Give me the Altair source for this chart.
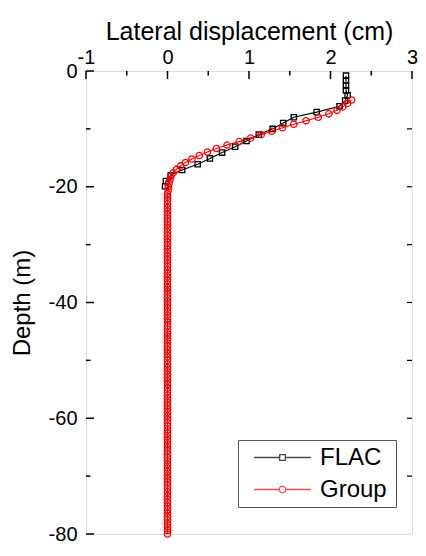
import altair as alt
import pandas as pd

# ---------------- data ----------------
series_names = ["FLAC", "Group"]
series_colors = ["black", "red"]

flac_depth = [-0.8, -1.65, -2.5, -3.35, -4.2, -5.1, -6.1, -7.1, -8.0, -9.0, -10.0,
              -11.0, -12.1, -13.1, -14.1, -15.1, -16.1, -17.1, -18.0, -19.0, -19.9]
flac_x = [2.19, 2.19, 2.19, 2.19, 2.21, 2.18, 2.11, 1.83, 1.55, 1.42, 1.29,
          1.12, 0.97, 0.83, 0.67, 0.52, 0.37, 0.18, 0.04, -0.02, -0.03]

group_depth = [
    -5.0, -5.6, -6.2, -6.8, -7.4, -8.0, -8.6, -9.2, -9.8, -10.4,
    -11.0, -11.6, -12.2, -12.8, -13.4, -14.0, -14.6, -15.2, -15.8, -16.4,
    -17.0, -17.6, -18.2, -18.8, -19.4, -20.0,
    -20.6, -21.2, -21.8, -22.4, -23.0, -23.6, -24.2, -24.8, -25.4, -26.0,
    -26.6, -27.2, -27.8, -28.4, -29.0, -29.6, -30.2, -30.8, -31.4, -32.0,
    -32.6, -33.2, -33.8, -34.4, -35.0, -35.6, -36.2, -36.8, -37.4, -38.0,
    -38.6, -39.2, -39.8, -40.4, -41.0, -41.6, -42.2, -42.8, -43.4, -44.0,
    -44.6, -45.2, -45.8, -46.4, -47.0, -47.6, -48.2, -48.8, -49.4, -50.0,
    -50.6, -51.2, -51.8, -52.4, -53.0, -53.6, -54.2, -54.8, -55.4, -56.0,
    -56.6, -57.2, -57.8, -58.4, -59.0, -59.6, -60.2, -60.8, -61.4, -62.0,
    -62.6, -63.2, -63.8, -64.4, -65.0, -65.6, -66.2, -66.8, -67.4, -68.0,
    -68.6, -69.2, -69.8, -70.4, -71.0, -71.6, -72.2, -72.8, -73.4, -74.0,
    -74.6, -75.2, -75.8, -76.4, -77.0, -77.6, -78.2, -78.8, -79.4, -80.0,
]
group_x = [
    2.26, 2.21, 2.15, 2.08, 1.98, 1.85, 1.70, 1.55, 1.41, 1.28,
    1.15, 1.02, 0.88, 0.73, 0.60, 0.49, 0.39, 0.30, 0.22, 0.16,
    0.11, 0.07, 0.04, 0.03, 0.02, 0.01,
    0.01, 0.0, 0.0, 0.0, 0.0, 0.0, 0.0, 0.0, 0.0, 0.0,
    0.0, 0.0, 0.0, 0.0, 0.0, 0.0, 0.0, 0.0, 0.0, 0.0,
    0.0, 0.0, 0.0, 0.0, 0.0, 0.0, 0.0, 0.0, 0.0, 0.0,
    0.0, 0.0, 0.0, 0.0, 0.0, 0.0, 0.0, 0.0, 0.0, 0.0,
    0.0, 0.0, 0.0, 0.0, 0.0, 0.0, 0.0, 0.0, 0.0, 0.0,
    0.0, 0.0, 0.0, 0.0, 0.0, 0.0, 0.0, 0.0, 0.0, 0.0,
    0.0, 0.0, 0.0, 0.0, 0.0, 0.0, 0.0, 0.0, 0.0, 0.0,
    0.0, 0.0, 0.0, 0.0, 0.0, 0.0, 0.0, 0.0, 0.0, 0.0,
    0.0, 0.0, 0.0, 0.0, 0.0, 0.0, 0.0, 0.0, 0.0, 0.0,
    0.0, 0.0, 0.0, 0.0, 0.0, 0.0, 0.0, 0.0, 0.0, 0.0,
]

x_major = [-1, 0, 1, 2, 3]
x_minor = [-0.5, 0.5, 1.5, 2.5]
y_major = [0, -20, -40, -60, -80]
y_minor = [-10, -30, -50, -70]
y_right = [-10, -20, -30, -40, -50, -60, -70]

# ---------------- chart ----------------
W, H = 326, 463
FONT = "Liberation Sans"

df = pd.DataFrame({
    "x": flac_x + group_x,
    "depth": flac_depth + group_depth,
    "series": [series_names[0]] * len(flac_x) + [series_names[1]] * len(group_x),
})

xs = alt.Scale(domain=[-1, 3], nice=False, zero=False)
ys = alt.Scale(domain=[-80, 0], nice=False, zero=False)

x_enc = alt.X("x:Q", scale=xs, axis=alt.Axis(
    orient="top", values=x_major, ticks=False, tickSize=0, domain=False, grid=False,
    labelPadding=4, labelFontSize=20, labelFont=FONT, labelColor="black",
    labelFlush=False, labelOverlap=False, labelExpr="'' + datum.value",
    title="Lateral displacement (cm)", titleFont=FONT, titleFontSize=25,
    titleFontWeight="normal", titleColor="black", titlePadding=3))
y_enc = alt.Y("depth:Q", scale=ys, axis=alt.Axis(
    orient="left", values=y_major, ticks=False, tickSize=0, domain=False, grid=False,
    labelPadding=9, labelFontSize=20, labelFont=FONT, labelColor="black",
    labelFlush=False, labelOverlap=False, labelExpr="'' + datum.value",
    title="Depth (m)", titleFont=FONT, titleFontSize=24,
    titleFontWeight="normal", titleColor="black", titlePadding=14))

color_main = alt.Color("series:N", scale=alt.Scale(domain=series_names, range=series_colors), legend=None)

lines = alt.Chart(df).mark_line(strokeWidth=1.1).encode(
    x=x_enc, y=y_enc, color=color_main,
    order=alt.Order("depth:Q", sort="descending"),
)

points = alt.Chart(df).mark_point(filled=False, strokeWidth=1.3, opacity=1).encode(
    x=alt.X("x:Q", scale=xs), y=alt.Y("depth:Q", scale=ys),
    color=color_main,
    shape=alt.Shape("series:N", scale=alt.Scale(domain=series_names, range=["square", "circle"]), legend=None),
    size=alt.Size("series:N", scale=alt.Scale(domain=series_names, range=[28, 40]), legend=None),
)

# legend symbols: line with an open marker in the middle
path_sq = "M-2.5,0L-0.25,0M0.25,0L2.5,0M-0.25,-0.25L0.25,-0.25L0.25,0.25L-0.25,0.25Z"
path_ci = "M-2.5,0L-0.29,0M0.29,0L2.5,0M-0.29,0A0.29,0.29,0,1,0,0.29,0A0.29,0.29,0,1,0,-0.29,0"

leg_props = dict(
    title="\u00a0", titleOrient="right", titlePadding=4, titleFontSize=10,
    orient="none", legendX=152, legendY=369, padding=5,
    strokeColor="#555555", fillColor="white", symbolSize=520, symbolStrokeWidth=1.3,
    symbolOffset=27, labelOffset=25, labelFontSize=24, labelFont=FONT,
    labelColor="black", rowPadding=7,
)

legend_layer = alt.Chart(pd.DataFrame({"legend_series": series_names})).transform_filter(
    "false"
).mark_point(filled=False, strokeWidth=1.3).encode(
    color=alt.Color("legend_series:N", scale=alt.Scale(domain=series_names, range=series_colors),
                    legend=alt.Legend(**leg_props)),
    shape=alt.Shape("legend_series:N", scale=alt.Scale(domain=series_names, range=[path_sq, path_ci]),
                    legend=alt.Legend(**leg_props)),
)

# inward ticks
top_major = alt.Chart(pd.DataFrame({"x": x_major})).mark_rule(color="black", strokeWidth=1.5).encode(
    x=alt.X("x:Q", scale=xs), y=alt.value(0), y2=alt.value(8))
top_minor = alt.Chart(pd.DataFrame({"x": x_minor})).mark_rule(color="black", strokeWidth=1.5).encode(
    x=alt.X("x:Q", scale=xs), y=alt.value(0), y2=alt.value(4.5))
left_major = alt.Chart(pd.DataFrame({"depth": y_major})).mark_rule(color="black", strokeWidth=1.5).encode(
    y=alt.Y("depth:Q", scale=ys), x=alt.value(0), x2=alt.value(8))
left_minor = alt.Chart(pd.DataFrame({"depth": y_minor})).mark_rule(color="black", strokeWidth=1.5).encode(
    y=alt.Y("depth:Q", scale=ys), x=alt.value(0), x2=alt.value(4.5))
right_ticks = alt.Chart(pd.DataFrame({"depth": y_right})).mark_rule(color="black", strokeWidth=1.2).encode(
    y=alt.Y("depth:Q", scale=ys), x=alt.value(W - 5), x2=alt.value(W))

chart = alt.layer(
    lines, points, top_major, top_minor, left_major, left_minor, right_ticks, legend_layer
).resolve_scale(
    color="independent", shape="independent"
).properties(
    width=W, height=H,
    autosize=alt.AutoSizeParams(type="none"),
    padding={"left": 78, "top": 63, "right": 6, "bottom": 9},
).configure_view(
    stroke="black", strokeWidth=1.5
).configure(
    font=FONT
)

chart.save("out.html", embed_options={"renderer": "svg", "actions": False})
